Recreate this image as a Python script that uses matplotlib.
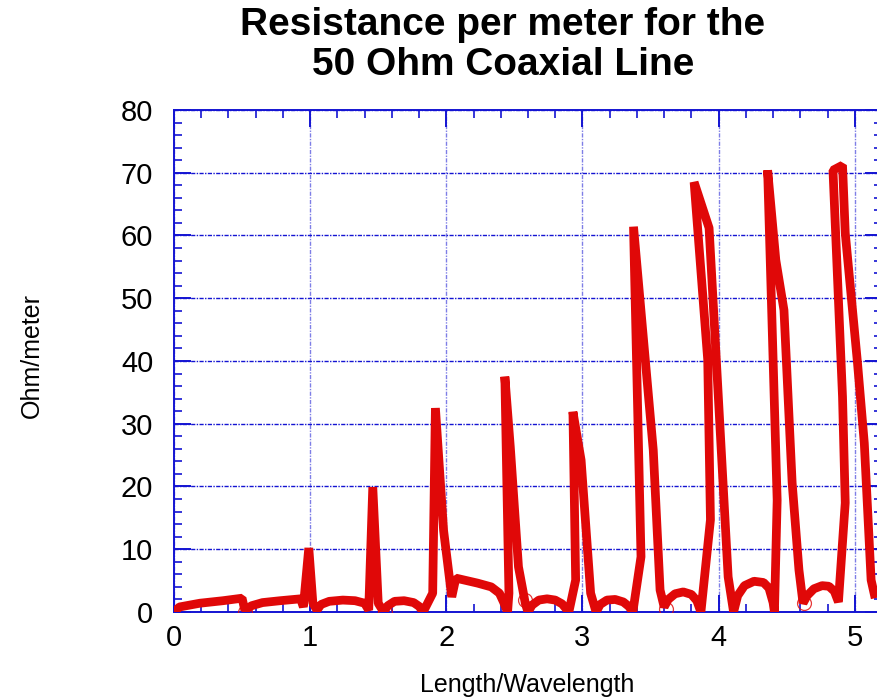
import matplotlib
matplotlib.use("Agg")
import matplotlib.pyplot as plt
from matplotlib.ticker import MultipleLocator

# (x is not monotonic at the spikes)
length_wl = [0.0, 0.04, 0.19, 0.36, 0.50, 0.52, 0.57, 0.65, 0.78, 0.93, 0.95,
             0.99, 1.02, 1.05, 1.08, 1.14, 1.24, 1.33, 1.40, 1.43, 1.46,
             1.50, 1.54, 1.57, 1.62, 1.69, 1.76, 1.80, 1.83, 1.90, 1.92,
             1.98, 2.04, 2.07, 2.23, 2.33, 2.39, 2.42, 2.45, 2.46, 2.43,
             2.47, 2.53, 2.58, 2.60, 2.63, 2.68, 2.74, 2.80, 2.85, 2.90,
             2.95, 2.93, 2.99, 3.06, 3.10, 3.13, 3.18, 3.24, 3.30, 3.34,
             3.37, 3.43, 3.375, 3.52, 3.57, 3.60, 3.63, 3.68, 3.74, 3.80,
             3.84, 3.87, 3.94, 3.92, 3.82, 3.93, 4.01, 4.07, 4.11, 4.14,
             4.19, 4.26, 4.33, 4.37, 4.40, 4.41, 4.43, 4.36, 4.42, 4.48,
             4.54, 4.59, 4.62, 4.65, 4.70, 4.76, 4.81, 4.85, 4.88, 4.93,
             4.91, 4.84, 4.91, 4.93, 5.02, 5.07, 5.12, 5.15]
ohm_per_m = [0.0, 0.8, 1.4, 1.8, 2.2, 0.3, 1.0, 1.5, 1.8, 2.1, 0.8,
             10.2, 1.4, 0.3, 1.2, 1.7, 1.9, 1.8, 1.4, 0.3, 19.9,
             1.4, 0.0, 1.0, 1.7, 1.8, 1.5, 0.9, 0.0, 3.0, 32.5,
             13.0, 2.4, 5.4, 4.6, 4.0, 3.0, 1.6, 0.0, 3.0, 37.5,
             26.3, 7.2, 1.4, 0.0, 1.1, 1.9, 2.1, 1.9, 1.3, 0.0,
             5.1, 31.9, 24.2, 3.0, 0.0, 1.2, 1.9, 2.0, 1.6, 0.9,
             0.0, 8.8, 61.4, 25.8, 3.5, 0.8, 2.0, 2.9, 3.2, 2.8,
             1.8, 0.0, 14.7, 40.2, 68.5, 61.2, 29.5, 5.6, 0.0, 2.6,
             4.2, 4.9, 4.7, 3.8, 1.5, 0.0, 17.8, 70.4, 56.1, 48.1,
             20.6, 6.7, 1.4, 2.6, 3.7, 4.2, 4.1, 3.3, 1.6, 17.4,
             34.3, 70.4, 71.2, 60.4, 39.7, 26.9, 5.1, 2.2]

# small open circles near the minima
mark_x = [0.52, 1.55, 2.58, 3.61, 4.625]
mark_y = [0.0, 0.0, 1.9, 0.5, 1.4]

blue = "#1414d2"
red = "#e00808"

plt.rcParams["font.family"] = ["Liberation Sans", "DejaVu Sans"]

fig = plt.figure(figsize=(8.78, 7.0), dpi=100)
ax = fig.add_axes([174 / 878, 88 / 700, 708 / 878, 502 / 700])

ax.plot(length_wl, ohm_per_m, color=red, lw=6.3, solid_joinstyle="bevel",
        solid_capstyle="butt", zorder=3)
ax.plot(mark_x, mark_y, "o", mfc="none", mec=red, mew=0.9, ms=10, alpha=0.8,
        zorder=4)

ax.set_xlim(0, 5.2)
ax.set_ylim(0, 80)
ax.xaxis.set_major_locator(MultipleLocator(1))
ax.xaxis.set_minor_locator(MultipleLocator(0.2))
ax.yaxis.set_major_locator(MultipleLocator(10))
ax.yaxis.set_minor_locator(MultipleLocator(2))

ax.grid(axis="y", which="major", color=blue, lw=1.0, ls=(0, (3, 1, 1, 1)))
ax.grid(axis="x", which="major", color=blue, lw=1.0, ls=(0, (3, 1, 1, 1)),
        alpha=0.55)

for s in ax.spines.values():
    s.set_color(blue)
    s.set_linewidth(1.4)

ax.tick_params(which="both", direction="in", colors=blue, top=True,
               right=True, labelcolor="black")
ax.tick_params(which="major", length=12, width=1.4, labelsize=21)
ax.tick_params(which="minor", length=6, width=1.2)
ax.tick_params(axis="y", which="major", pad=15)
ax.tick_params(axis="x", which="major", pad=9)

fig.text(32 / 878, 1 - 355 / 700, "Ohm/meter", rotation=90, fontsize=18,
         ha="center", va="center")
fig.text(527 / 878, 1 - 685 / 700, "Length/Wavelength", fontsize=18,
         ha="center", va="center")
fig.text(503 / 878, 1 - 45 / 700, "Resistance per meter for the\n50 Ohm Coaxial Line",
         fontsize=28, fontweight="bold", ha="center", va="center",
         linespacing=1.12)

fig.savefig("out.png", dpi=100)
